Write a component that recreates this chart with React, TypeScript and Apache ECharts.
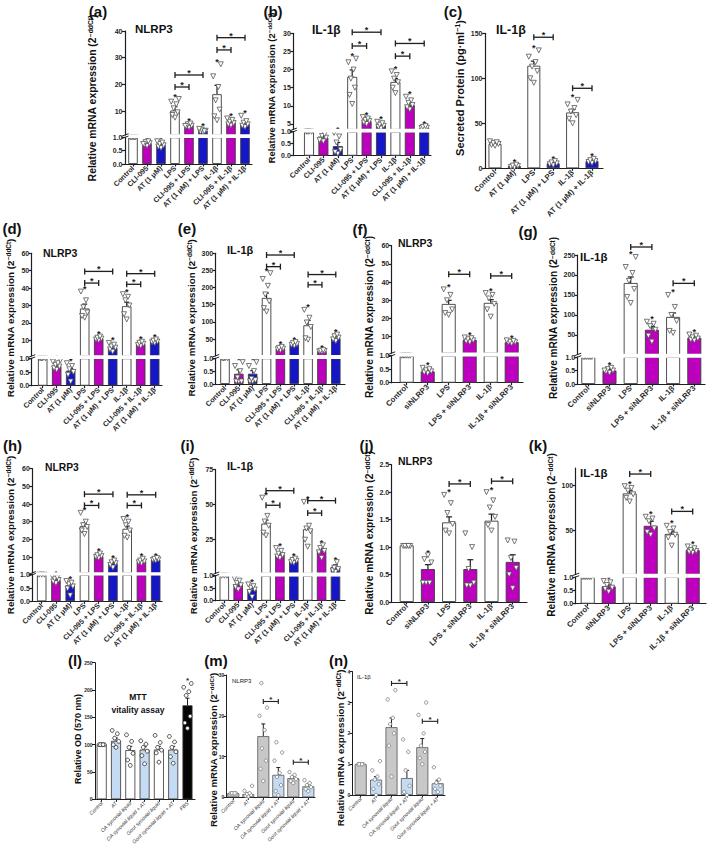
import React, { useEffect, useRef } from "react";
import * as echarts from "echarts";

const FONT = "'Liberation Sans', Arial, Helvetica, sans-serif";
const NARROW = "'Liberation Sans Narrow', 'Liberation Sans', Arial, sans-serif";
const INK = "#1f1f1f";
const WH = "#ffffff";
const MG = "#bd00bd";
const BL = "#1616c9";
const LB = "#c5dbf3";
const GR = "#c8c8c8";
const BK = "#050505";

// ---------- categories ----------
const cats9 = ["Control", "CLI-095", "AT (1 μM)", "LPS", "CLI-095 + LPS", "AT (1 μM) + LPS", "IL-1β", "CLI-095 + IL-1β", "AT (1 μM) + IL-1β"];
const catsC = ["Control", "AT (1 μM)", "LPS", "AT (1 μM) + LPS", "IL-1β", "AT (1 μM) + IL-1β"];
const catsSi = ["Control", "siNLRP3", "LPS", "LPS + siNLRP3", "IL-1β", "IL-1β + siNLRP3"];
const catsL = ["Control", "AT", "OA synovial liquid", "OA synovial liquid + AT", "Gout synovial liquid", "Gout synovial liquid + AT", "FBS"];
const catsMN = ["Control", "AT", "OA synovial liquid", "OA synovial liquid + AT", "Gout synovial liquid", "Gout synovial liquid + AT"];

// ---------- significance flags ----------
const star9 = [0, 1, 1, 1, 1, 1, 1, 1, 1];
const star6 = [0, 1, 1, 1, 1, 1];
const starJ = [0, 1, 1, 0, 1, 0];
const starL = [0, 0, 0, 0, 0, 0, 1];
const starMN = [0, 0, 0, 0, 0, 0];

// ---------- (a) NLRP3 ----------
const aMean = [1.0, 0.78, 0.72, 10.2, 4.7, 2.6, 16.3, 5.8, 5.1];
const aSem = [0, 0.04, 0.04, 1.4, 0.35, 0.3, 3.3, 0.5, 0.6];
const aPts = [
  [1, 1, 1, 1, 1],
  [0.68, 0.72, 0.78, 0.82, 0.85, 0.75],
  [0.6, 0.65, 0.7, 0.75, 0.8, 0.85],
  [7.5, 8.5, 9.5, 11, 12.5, 13.5, 14.5],
  [3.8, 4.2, 4.5, 5, 5.3, 4.4],
  [1.9, 2.2, 2.6, 3, 2.4, 3.3],
  [6.5, 8, 10.5, 14, 19, 23, 27.5],
  [4.6, 5, 5.5, 6, 6.6, 7.2],
  [4, 4.5, 5, 5.6, 6.2, 8.2],
];
const aBrk = [[3, 4, 19], [3, 5, 23.5], [6, 7, 32.9], [6, 8, 37.5]];

// ---------- (b) IL-1β ----------
const bMean = [1.0, 0.75, 0.4, 18, 5.8, 4.6, 16.6, 10.2, 4.0];
const bSem = [0, 0.06, 0.15, 1.9, 0.4, 0.4, 0.9, 0.6, 0.2];
const bPts = [
  [1, 1, 1, 1],
  [0.6, 0.68, 0.75, 0.82, 0.9, 0.65],
  [0.08, 0.15, 0.25, 0.55, 0.8, 0.95],
  [10.5, 13, 15, 17.5, 20, 22, 23],
  [5, 5.4, 5.8, 6.1, 6.5, 6.9],
  [3.8, 4.2, 4.5, 4.8, 5.2, 5.6],
  [13.5, 15, 16.5, 17.5, 18.5, 19.5],
  [9, 9.6, 10.2, 10.8, 11.5, 12.5],
  [3.7, 3.9, 4.0, 4.2, 4.4],
];
const bBrk = [[3, 4, 26.5], [3, 5, 30.3], [6, 7, 23.7], [6, 8, 27.2]];

// ---------- (c) secreted IL-1β ----------
const cMean = [27, 2.5, 114, 5.5, 62, 8];
const cSem = [1.5, 0.8, 5, 1, 3.5, 1.2];
const cPts = [
  [25, 26, 27, 28, 29, 30],
  [1, 1.5, 2.5, 3, 4],
  [95, 100, 108, 113, 118, 124, 131],
  [3.5, 4.5, 5.5, 6.5, 8],
  [50, 55, 59, 63, 67, 71, 76],
  [6, 7, 8, 9, 10.5],
];
const cBrk = [[2, 3, 145.6], [4, 5, 88.9]];

// ---------- (d) NLRP3 ----------
const dMean = [1.0, 0.72, 0.55, 28.3, 11.1, 5.8, 29.6, 8.0, 9.3];
const dSem = [0, 0.05, 0.08, 2.5, 0.6, 0.8, 2.3, 0.7, 0.6];
const dPts = [
  [1, 1, 1, 1],
  [0.58, 0.64, 0.7, 0.76, 0.82, 0.88, 0.93],
  [0.15, 0.4, 0.5, 0.6, 0.72, 0.82],
  [23, 24, 26, 29, 33, 38],
  [10, 10.5, 11, 11.5, 12.2],
  [3.5, 4.8, 5.8, 6.5, 7.5, 8.5],
  [22, 25, 30, 33, 35, 36.5],
  [6.8, 7.3, 8, 8.6, 9.2],
  [8.5, 8.9, 9.3, 9.8, 10.5],
];
const dBrk = [[3, 4, 42.9], [3, 5, 49.6], [6, 7, 42.2], [6, 8, 48.3]];

// ---------- (e) IL-1β ----------
const eMean = [1.0, 0.4, 0.4, 170, 22, 35, 90, 15, 53];
const eSem = [0, 0.15, 0.12, 14, 2, 3, 14, 1.5, 4];
const ePts = [
  [1, 1, 1, 1],
  [0.1, 0.1, 0.1, 0.25, 0.5, 0.7, 0.85],
  [0.1, 0.1, 0.15, 0.2, 0.5, 0.7, 0.85],
  [130, 140, 160, 180, 205, 225, 242],
  [17, 20, 22, 24, 27],
  [30, 33, 35, 38, 41],
  [48, 52, 85, 98, 112, 135],
  [12, 14, 15, 16, 17.5],
  [44, 49, 54, 58, 63],
];
const eBrk = [[3, 4, 261], [3, 5, 295], [6, 7, 208], [6, 8, 238]];

// ---------- (f) NLRP3 siRNA ----------
const fMean = [1.0, 0.42, 28, 8.3, 28.6, 7.0];
const fSem = [0, 0.04, 2, 0.5, 1.8, 0.4];
const fPts = [
  [1, 1, 1, 1, 1, 1],
  [0.35, 0.38, 0.42, 0.46, 0.5, 0.55],
  [22, 23, 25, 30, 33, 36],
  [7, 7.5, 8, 8.6, 9.2, 9.6],
  [21, 25, 28, 31, 33, 34],
  [6.3, 6.8, 7, 7.3, 7.7, 8],
];
const fBrk = [[2, 3, 44.3], [4, 5, 43.4]];

// ---------- (g) IL-1β siRNA ----------
const gMean = [1.0, 0.5, 180, 63, 95, 43];
const gSem = [0, 0.04, 15, 8, 10, 3];
const gPts = [
  [1, 1, 1, 1, 1, 1],
  [0.42, 0.45, 0.5, 0.55, 0.6, 0.5],
  [130, 145, 165, 185, 205, 220, 245],
  [33, 48, 63, 72, 78, 83],
  [55, 60, 85, 100, 120, 150],
  [36, 38, 41, 44, 48, 51],
];
const gBrk = [[2, 3, 270], [4, 5, 179]];

// ---------- (h) NLRP3 ----------
const hMean = [1.0, 0.8, 0.6, 27.5, 10.5, 6.5, 26, 7.5, 8.5];
const hSem = [0, 0.04, 0.07, 1.7, 0.6, 0.7, 1.5, 0.5, 0.5];
const hPts = [
  [1, 1, 1],
  [0.68, 0.74, 0.8, 0.85, 0.9, 0.95],
  [0.22, 0.48, 0.56, 0.64, 0.7, 0.76],
  [23, 25, 27, 28, 30, 35],
  [9.5, 10, 10.5, 11, 12],
  [4, 5.5, 6.5, 7, 8],
  [21, 22, 25, 28, 30, 31.5],
  [6.5, 7, 7.5, 8, 9],
  [8, 8.3, 8.6, 9, 9.4],
];
const hBrk = [[3, 4, 39.2], [3, 5, 45.6], [6, 7, 39.2], [6, 8, 45.2]];

// ---------- (i) IL-1β ----------
const iMean = [1.0, 0.65, 0.45, 36.5, 14.5, 10, 32.5, 17.5, 5.5];
const iSem = [0, 0.05, 0.06, 2.5, 1.2, 0.7, 1.8, 1.2, 1.5];
const iPts = [
  [1, 1, 1],
  [0.45, 0.55, 0.62, 0.7, 0.8, 0.9],
  [0.15, 0.35, 0.45, 0.52, 0.58, 0.65],
  [28, 30, 35, 38, 42, 55],
  [12, 13, 14, 15, 17, 19],
  [8.5, 9, 10, 10.5, 11.5],
  [20, 25, 31, 33, 35, 52],
  [12, 16, 17, 19, 21],
  [2, 3, 4, 5, 9],
];
const iBrk = [[3, 4, 49.6], [3, 5, 60], [6, 7, 44], [6, 8, 52.9]];

// ---------- (j) NLRP3 siRNA ----------
const jMean = [1.03, 0.6, 1.45, 0.6, 1.48, 0.73];
const jSem = [0, 0.08, 0.1, 0.17, 0.12, 0.13];
const jPts = [
  [1.02, 1.02, 1.02, 1.02, 1.02],
  [0.85, 0.78, 0.72, 0.35, 0.35, 0.35],
  [1.25, 1.3, 1.42, 1.62, 1.8, 1.95],
  [0.3, 0.3, 0.35, 0.6, 1.0, 1.25],
  [1.3, 1.4, 1.55, 1.72, 1.85, 2.0],
  [0.25, 0.5, 0.62, 0.8, 1.1, 1.12],
];
const jBrk = [[2, 3, 2.15], [4, 5, 2.2]];

// ---------- (k) IL-1β siRNA ----------
const kMean = [1.0, 0.65, 91, 55, 46, 28];
const kSem = [0, 0.05, 3, 5, 3, 2];
const kPts = [
  [1, 1, 1, 1, 1, 1],
  [0.45, 0.55, 0.6, 0.7, 0.8, 0.85],
  [82, 86, 90, 94, 97, 99],
  [45, 48, 52, 60, 63, 65],
  [33, 42, 45, 48, 52, 55],
  [25, 26, 27, 28, 30, 32],
];
const kBrk = [[2, 3, 112.5], [4, 5, 71]];

// ---------- (l) MTT ----------
const lMean = [100, 107, 90, 91, 91, 91, 172];
const lSem = [0, 5, 7, 5, 6, 6, 13];
const lPts = [
  [100, 100, 100, 100, 100],
  [95, 100, 106, 112, 120, 126],
  [62, 72, 84, 95, 106, 118],
  [65, 80, 88, 95, 101, 107],
  [68, 85, 90, 95, 104, 117],
  [66, 78, 87, 95, 105, 115],
  [130, 140, 152, 190, 197, 205, 212],
];

// ---------- (m) NLRP3 synovial ----------
const mMean = [1.0, 0.8, 15, 5.5, 4.7, 2.7];
const mSem = [0, 0.3, 3, 1.8, 0.5, 0.5];
const mPts = [
  [1, 1, 1, 1, 1],
  [0.2, 0.4, 0.6, 0.8, 1, 1.6, 2.8],
  [4, 7, 9, 12, 16.5, 20, 22, 28],
  [0.5, 1.5, 3, 5, 6, 9, 11, 13.5],
  [3.5, 4, 4.5, 5, 5.5, 6.2],
  [1.5, 2, 2.5, 3, 3.5, 4.2],
];
const mBrk = [[2, 3, 23.5], [4, 5, 8.6]];

// ---------- (n) IL-1β synovial ----------
const nMean = [1.0, 0.5, 2.2, 0.55, 1.55, 0.38];
const nSem = [0, 0.1, 0.3, 0.25, 0.28, 0.1];
const nPts = [
  [1, 1, 1, 1, 1],
  [0, 0.2, 0.35, 0.5, 0.6, 0.8, 1.1],
  [0.6, 1.6, 2.0, 2.3, 2.5, 3.1, 3.4],
  [0, 0.1, 0.3, 0.8, 1.4, 1.8],
  [1.0, 1.2, 1.4, 1.6, 2.0, 2.6, 3.0],
  [0.1, 0.2, 0.3, 0.4, 0.5, 0.9],
];
const nBrk = [[2, 3, 3.62], [4, 5, 2.39]];

const MRNA = "Relative mRNA expression (2{s|−ddCt})";
const SECR = "Secreted Protein (pg·ml{s|−1})";
const JIT = [0, -0.7, 0.7, -0.35, 0.35, -1, 1, -0.5, 0.5];

// ---------- styles ----------
const col9 = [WH, MG, BL, WH, MG, BL, WH, MG, BL];
const colC = [WH, BL, WH, BL, WH, BL];
const colSi = [WH, MG, WH, MG, WH, MG];
const colL = [WH, LB, WH, LB, WH, LB, BK];
const colMN = [GR, LB, GR, LB, GR, LB];

const STY_AK = {
  font: FONT, lw: 1.2, tickSize: 7, xSize: 7.3, xBold: true, xItalic: false, xColor: "#2a2a2a", xMargin: 3,
  border: "#3c3c3c", bw: 0.9, sym: "triangle", symRot: 180, symSize: 5, ptBorder: "#555", jit: 3.8,
  capW: 5, brkCap: 3, starSize: 9, lsize: 15, ylab: MRNA, tbold: true,
};
const STY_6 = { ...STY_AK, xSize: 7.8, jit: 5, capW: 6 };
const STY_LMN = {
  font: NARROW, lw: 1, tickSize: 5, xSize: 5.2, xBold: false, xItalic: true, xColor: "#333", xMargin: 3,
  border: "#333", bw: 0.8, sym: "circle", symRot: 0, symSize: 3.8, ptBorder: "#333", jit: 3.8,
  capW: 4, brkCap: 2.5, starSize: 8, lsize: 15, ylab: MRNA, tbold: false,
};

function fmt(v: number, dec: number) {
  return dec ? v.toFixed(dec) : String(v);
}

function addPanel(o: any, L: any, D: any) {
  const idx = D.cats.map((_: string, i: number) => i);
  const xmin = (L.ax - L.c0) / L.dx;
  const xmax = (L.xEnd - L.c0) / L.dx;
  const segs = L.broken
    ? [
        { top: L.lowTop, bot: L.lowBot, min: 0, max: 1, ticks: [0, 0.5, 1], dec: 1, part: "low" },
        { top: L.upTop, bot: L.upBot, min: L.upMin, max: L.upMax, ticks: L.ticks, dec: 0, part: "up" },
      ]
    : [{ top: L.top, bot: L.bot, min: L.min, max: L.max, ticks: L.ticks, dec: L.dec || 0, part: "all" }];
  const inSeg = (part: string, v: number) => (part === "all" ? true : part === "low" ? v <= 1.000001 : v > 1.000001);
  const lineStyle = { color: INK, width: L.lw };

  segs.forEach((s: any, si: number) => {
    const gi = o.grid.length;
    const showX = si === 0;
    o.grid.push({ left: L.ax, top: s.top, width: L.xEnd - L.ax, height: s.bot - s.top, containLabel: false, outerBoundsMode: "none" });
    o.xAxis.push({
      type: "value", gridIndex: gi, min: xmin, max: xmax,
      axisLine: { show: showX, onZero: false, lineStyle },
      axisTick: { show: showX, customValues: idx, length: 2.5, lineStyle },
      axisLabel: {
        show: showX, customValues: idx, rotate: 45, margin: L.xMargin, fontSize: L.xSize,
        fontWeight: L.xBold ? "bold" : "normal", fontStyle: L.xItalic ? "italic" : "normal",
        color: L.xColor, fontFamily: L.font, formatter: (v: number) => D.cats[Math.round(v)] ?? "",
      },
      splitLine: { show: false },
    });
    o.yAxis.push({
      type: "value", gridIndex: gi, min: s.min, max: s.max,
      axisLine: { show: true, onZero: false, lineStyle },
      axisTick: { show: true, customValues: s.ticks, length: 3, lineStyle },
      axisLabel: {
        customValues: s.ticks, formatter: (v: number) => fmt(v, s.dec), fontSize: L.tickSize,
        fontWeight: "bold", color: INK, fontFamily: L.font, margin: 2.5,
      },
      splitLine: { show: false },
    });
    const common = { xAxisIndex: gi, yAxisIndex: gi, silent: true, animation: false };

    o.series.push({
      type: "bar", ...common, barWidth: L.barW, clip: true,
      data: D.mean.map((v: number, i: number) => ({
        value: [i, s.part === "low" ? Math.min(v, 1) : v],
        itemStyle: { color: L.colors[i], borderColor: L.border, borderWidth: L.bw },
      })),
    });

    const pts: number[][] = [];
    D.pts.forEach((arr: number[], i: number) =>
      arr.forEach((v: number, k: number) => {
        if (inSeg(s.part, v)) pts.push([i + (JIT[k % JIT.length] * L.jit) / L.dx, v]);
      })
    );
    o.series.push({
      type: "scatter", ...common, clip: true, symbol: L.sym, symbolRotate: L.symRot, symbolSize: L.symSize,
      itemStyle: { color: "#ffffff", borderColor: L.ptBorder, borderWidth: 0.8, opacity: 1 },
      data: pts,
    });

    const errData = D.mean
      .map((v: number, i: number) => [i, v, v + D.sem[i]])
      .filter((d: number[], i: number) => D.sem[i] > 0 && inSeg(s.part, D.mean[i]));
    o.series.push({
      type: "custom", ...common, clip: false, data: errData,
      renderItem: (_p: any, api: any) => {
        const a = api.coord([api.value(0), api.value(1)]);
        const b = api.coord([api.value(0), api.value(2)]);
        return {
          type: "group",
          children: [
            { type: "line", shape: { x1: a[0], y1: a[1], x2: b[0], y2: b[1] }, style: { stroke: INK, lineWidth: L.lw } },
            { type: "line", shape: { x1: b[0] - L.capW / 2, y1: b[1], x2: b[0] + L.capW / 2, y2: b[1] }, style: { stroke: INK, lineWidth: L.lw } },
          ],
        };
      },
    });

    const starData = D.mean
      .map((v: number, i: number) => [i, Math.max(v + D.sem[i], ...D.pts[i])])
      .filter((d: number[], i: number) => D.star[i] && inSeg(s.part, d[1]));
    o.series.push({
      type: "custom", ...common, clip: false, data: starData,
      renderItem: (_p: any, api: any) => {
        const a = api.coord([api.value(0), api.value(1)]);
        return {
          type: "text", x: a[0], y: a[1] - 2.5,
          style: { text: "*", fontSize: L.starSize, fontWeight: "bold", fontFamily: FONT, fill: INK, align: "center", verticalAlign: "middle" },
        };
      },
    });

    if (si === segs.length - 1 && D.brk.length) {
      o.series.push({
        type: "custom", ...common, clip: false, data: D.brk,
        renderItem: (_p: any, api: any) => {
          const a = api.coord([api.value(0), api.value(2)]);
          const b = api.coord([api.value(1), api.value(2)]);
          const h = L.brkCap;
          const st = { stroke: INK, lineWidth: L.lw * 1.1 };
          return {
            type: "group",
            children: [
              { type: "line", shape: { x1: a[0], y1: a[1], x2: b[0], y2: b[1] }, style: st },
              { type: "line", shape: { x1: a[0], y1: a[1] - h, x2: a[0], y2: a[1] + h }, style: st },
              { type: "line", shape: { x1: b[0], y1: b[1] - h, x2: b[0], y2: b[1] + h }, style: st },
              {
                type: "text", x: (a[0] + b[0]) / 2, y: a[1] - 2,
                style: { text: "*", fontSize: L.starSize, fontWeight: "bold", fontFamily: FONT, fill: INK, align: "center", verticalAlign: "middle" },
              },
            ],
          };
        },
      });
    }
  });

  const g = o.graphic.elements;
  g.push({
    type: "text", x: L.lx, y: L.ly,
    style: { text: L.letter, fontSize: L.lsize, fontWeight: "bold", fontFamily: FONT, fill: "#111", align: "center", verticalAlign: "middle" },
  });
  if (L.title) {
    g.push({
      type: "text", x: L.tx, y: L.ty,
      style: { text: L.title, fontSize: L.tsize, fontWeight: L.tbold ? "bold" : "normal", fontFamily: L.font, fill: "#111", align: "left", verticalAlign: "middle" },
    });
  }
  g.push({
    type: "text", x: L.ylx, y: L.yly, rotation: Math.PI / 2,
    style: {
      text: L.ylab, fontSize: L.ylsize, fontWeight: "bold", fontFamily: FONT, fill: "#111", align: "center", verticalAlign: "middle",
      rich: { s: { fontSize: L.ylsize * 0.65, fontWeight: "bold", fontFamily: FONT, fill: "#111", verticalAlign: "top" } },
    },
  });
  if (L.broken) {
    // white band that interrupts the bars at the axis break
    g.push({
      type: "rect", z: 100,
      shape: { x: L.ax + L.lw, y: L.upBot - 0.7, width: L.xEnd - L.ax, height: L.lowTop - L.upBot + 1.4 },
      style: { fill: "#ffffff" },
    });
    [L.upBot, L.lowTop].forEach((y: number) =>
      g.push({ type: "line", z: 101, shape: { x1: L.ax - 3.5, y1: y + 1.3, x2: L.ax + 3.5, y2: y - 1.3 }, style: { stroke: INK, lineWidth: 1 } })
    );
  }
}

function buildOption() {
  const o: any = { animation: false, backgroundColor: "#ffffff", grid: [], xAxis: [], yAxis: [], series: [], graphic: { elements: [] } };

  addPanel(o, { ...STY_AK, colors: col9, letter: "(a)", lx: 98, ly: 11.5, title: "NLRP3", tx: 135, ty: 29, tsize: 11.5,
    ylx: 92, yly: 98, ylsize: 10.4, ax: 125, xEnd: 252, c0: 133, dx: 14, barW: 9.5, broken: true,
    lowBot: 164, lowTop: 137.3, upBot: 135, upTop: 31, upMin: 1, upMax: 40, ticks: [10, 20, 30, 40] },
    { cats: cats9, mean: aMean, sem: aSem, pts: aPts, star: star9, brk: aBrk });

  addPanel(o, { ...STY_AK, colors: col9, letter: "(b)", lx: 273, ly: 11.5, title: "IL-1β", tx: 312, ty: 30, tsize: 12,
    ylx: 271, yly: 88, ylsize: 9.4, ax: 293.3, xEnd: 431, c0: 309, dx: 14.4, barW: 10, broken: true,
    lowBot: 155.7, lowTop: 131.7, upBot: 129.4, upTop: 33.3, upMin: 3.5, upMax: 30, ticks: [5, 10, 15, 20, 25, 30] },
    { cats: cats9, mean: bMean, sem: bSem, pts: bPts, star: star9, brk: bBrk });

  addPanel(o, { ...STY_6, colors: colC, ylab: SECR, letter: "(c)", lx: 453, ly: 11.5, title: "IL-1β", tx: 496, ty: 30, tsize: 12.5,
    ylx: 460, yly: 88, ylsize: 11, ax: 485, xEnd: 603, c0: 495, dx: 19.4, barW: 13, broken: false,
    bot: 168.3, top: 33.3, min: 0, max: 150, ticks: [0, 50, 100, 150] },
    { cats: catsC, mean: cMean, sem: cSem, pts: cPts, star: star6, brk: cBrk });

  addPanel(o, { ...STY_AK, colors: col9, letter: "(d)", lx: 12, ly: 228.5, title: "NLRP3", tx: 43, ty: 253, tsize: 10.5,
    ylx: 10, yly: 318, ylsize: 9.9, ax: 31.7, xEnd: 162, c0: 42.7, dx: 14, barW: 9.5, broken: true,
    lowBot: 385.7, lowTop: 358.3, upBot: 356, upTop: 253.3, upMin: 1, upMax: 60, ticks: [10, 20, 30, 40, 50, 60] },
    { cats: cats9, mean: dMean, sem: dSem, pts: dPts, star: star9, brk: dBrk });

  addPanel(o, { ...STY_AK, colors: col9, letter: "(e)", lx: 187, ly: 228.5, title: "IL-1β", tx: 227, ty: 250, tsize: 11,
    ylx: 191.5, yly: 318, ylsize: 9.8, ax: 215.7, xEnd: 345, c0: 225, dx: 13.85, barW: 9.5, broken: true,
    lowBot: 384, lowTop: 358.3, upBot: 355.8, upTop: 253.3, upMin: 1, upMax: 300, ticks: [50, 100, 150, 200, 250, 300] },
    { cats: cats9, mean: eMean, sem: eSem, pts: ePts, star: star9, brk: eBrk });

  addPanel(o, { ...STY_6, colors: colSi, letter: "(f)", lx: 360, ly: 229, title: "NLRP3", tx: 398, ty: 243, tsize: 10.5,
    ylx: 369, yly: 317, ylsize: 10.1, ax: 391.7, xEnd: 523, c0: 406.7, dx: 21, barW: 14, broken: true,
    lowBot: 382.7, lowTop: 355.7, upBot: 353.1, upTop: 245.7, upMin: 1, upMax: 60, ticks: [10, 20, 30, 40, 50, 60] },
    { cats: catsSi, mean: fMean, sem: fSem, pts: fPts, star: star6, brk: fBrk });

  addPanel(o, { ...STY_6, colors: colSi, letter: "(g)", lx: 528, ly: 231, title: "IL-1β", tx: 580, ty: 257, tsize: 11.5,
    ylx: 553.5, yly: 318, ylsize: 10.1, ax: 577.7, xEnd: 705, c0: 588.3, dx: 21.2, barW: 14, broken: true,
    lowBot: 384, lowTop: 357, upBot: 354.5, upTop: 255, upMin: 1, upMax: 250, ticks: [50, 100, 150, 200, 250] },
    { cats: catsSi, mean: gMean, sem: gSem, pts: gPts, star: star6, brk: gBrk });

  addPanel(o, { ...STY_AK, colors: col9, letter: "(h)", lx: 12.5, ly: 445, title: "NLRP3", tx: 45, ty: 467, tsize: 10.3,
    ylx: 10, yly: 535, ylsize: 9.9, ax: 32.3, xEnd: 162, c0: 41.7, dx: 14.25, barW: 9.5, broken: true,
    lowBot: 601.3, lowTop: 574.7, upBot: 572.9, upTop: 468.7, upMin: 1, upMax: 60, ticks: [10, 20, 30, 40, 50, 60] },
    { cats: cats9, mean: hMean, sem: hSem, pts: hPts, star: star9, brk: hBrk });

  addPanel(o, { ...STY_AK, colors: col9, letter: "(i)", lx: 187.5, ly: 445.5, title: "IL-1β", tx: 227, ty: 466, tsize: 11,
    ylx: 193.5, yly: 536, ylsize: 9.75, ax: 215.7, xEnd: 345, c0: 224.3, dx: 13.9, barW: 9.5, broken: true,
    lowBot: 600.7, lowTop: 575.7, upBot: 573.3, upTop: 469.7, upMin: 1, upMax: 75, ticks: [25, 50, 75] },
    { cats: cats9, mean: iMean, sem: iSem, pts: iPts, star: star9, brk: iBrk });

  addPanel(o, { ...STY_6, colors: colSi, letter: "(j)", lx: 366.5, ly: 445, title: "NLRP3", tx: 398, ty: 461, tsize: 10.5,
    ylx: 369, yly: 533, ylsize: 10.2, ax: 391.7, xEnd: 527, c0: 406.7, dx: 21.2, barW: 14, broken: false,
    bot: 602, top: 464.7, min: 0, max: 2.5, ticks: [0, 0.5, 1, 1.5, 2, 2.5], dec: 1 },
    { cats: catsSi, mean: jMean, sem: jSem, pts: jPts, star: starJ, brk: jBrk });

  addPanel(o, { ...STY_6, colors: colSi, letter: "(k)", lx: 538, ly: 445.5, title: "IL-1β", tx: 580, ty: 473, tsize: 11.5,
    ylx: 551.5, yly: 535, ylsize: 10.2, ax: 575.7, xEnd: 706, c0: 587.7, dx: 21, barW: 14, broken: true,
    lowBot: 603.7, lowTop: 577, upBot: 574.4, upTop: 468, upMin: 1, upMax: 119.2, ticks: [50, 100] },
    { cats: catsSi, mean: kMean, sem: kSem, pts: kPts, star: star6, brk: kBrk });

  addPanel(o, { ...STY_LMN, colors: colL, ylab: "Relative OD (570 nm)", letter: "(l)", lx: 75, ly: 660, title: "",
    ylx: 77.5, yly: 739, ylsize: 9, ax: 95, xEnd: 195, c0: 101.7, dx: 14.3, barW: 10, broken: false,
    bot: 799.3, top: 662.7, min: 0, max: 250, ticks: [0, 50, 100, 150, 200, 250], ptBorder: "#222" },
    { cats: catsL, mean: lMean, sem: lSem, pts: lPts, star: starL, brk: [] });

  addPanel(o, { ...STY_LMN, colors: colMN, border: "#555", ptBorder: "#777", symSize: 3.4, letter: "(m)", lx: 216, ly: 660,
    title: "NLRP3", tx: 232, ty: 680.5, tsize: 6, ylx: 213, yly: 750, ylsize: 9.6, ax: 226.7, xEnd: 315, c0: 233.3, dx: 15,
    barW: 12, broken: false, bot: 797.3, top: 675, min: 0, max: 30, ticks: [0, 10, 20, 30] },
    { cats: catsMN, mean: mMean, sem: mSem, pts: mPts, star: starMN, brk: mBrk });

  addPanel(o, { ...STY_LMN, colors: colMN, border: "#555", ptBorder: "#777", symSize: 3.4, letter: "(n)", lx: 338.5, ly: 660,
    title: "IL-1β", tx: 357, ty: 676.5, tsize: 6, ylx: 340, yly: 748, ylsize: 9.75, ax: 352.7, xEnd: 445, c0: 360.7, dx: 15.4,
    barW: 12, broken: false, bot: 795, top: 671.7, min: 0, max: 4, ticks: [0, 1, 2, 3, 4] },
    { cats: catsMN, mean: nMean, sem: nSem, pts: nPts, star: starMN, brk: nBrk });

  o.graphic.elements.push(
    { type: "text", x: 138, y: 697, style: { text: "MTT", fontSize: 8.5, fontWeight: "bold", fontFamily: NARROW, fill: "#111", align: "center", verticalAlign: "middle" } },
    { type: "text", x: 138, y: 710, style: { text: "vitality assay", fontSize: 8.5, fontWeight: "bold", fontFamily: NARROW, fill: "#111", align: "center", verticalAlign: "middle" } }
  );
  return o;
}

export default function App() {
  const ref = useRef<HTMLDivElement>(null);
  useEffect(() => {
    if (!ref.current) return;
    const chart = echarts.init(ref.current, null, { renderer: "svg" });
    chart.setOption(buildOption());
    return () => chart.dispose();
  }, []);
  return <div ref={ref} style={{ position: "absolute", left: 0, top: 0, width: 709, height: 855, background: "#fff" }} />;
}
